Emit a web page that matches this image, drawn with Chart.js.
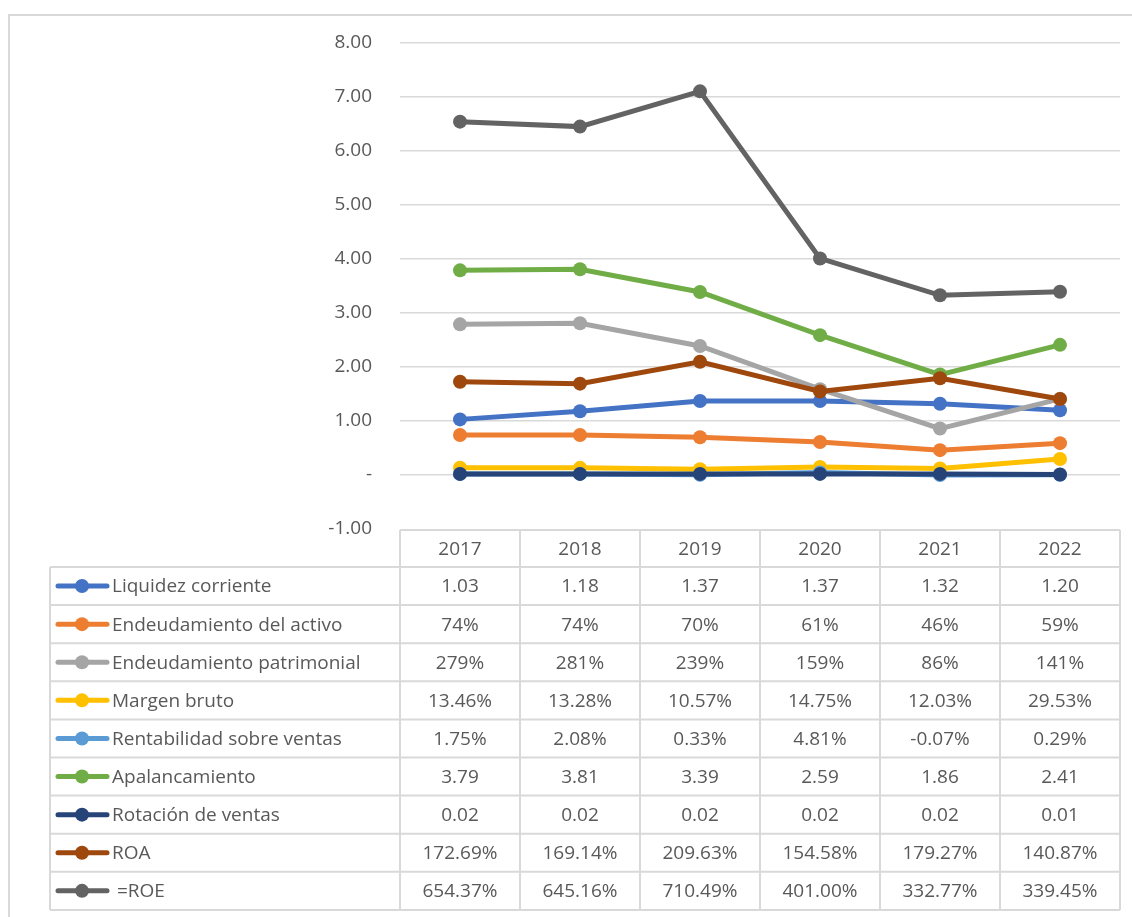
<!DOCTYPE html>
<html>
<head>
<meta charset="utf-8">
<script src="https://cdn.jsdelivr.net/npm/chart.js@4"></script>
<style>
    html, body { margin: 0; padding: 0; background: #fff; }
    #wrap { position: relative; width: 1132px; height: 917px; }
    #frame { position: absolute; left: 8px; top: 14px; width: 1140px; height: 920px; border: 2px solid #d9d9d9; box-sizing: border-box; }
    canvas { position: absolute; left: 0; top: 0; }
</style>
</head>
<body>
<div id="wrap">
    <div id="frame"></div>
    <canvas id="ratiosChart" width="1132" height="917"></canvas>
</div>
<script>
// Data
const years = ['2017', '2018', '2019', '2020', '2021', '2022'];
const liquidezCorriente = [1.03, 1.18, 1.37, 1.37, 1.32, 1.20];
const endeudamientoActivo = [0.74, 0.74, 0.70, 0.61, 0.46, 0.59];
const endeudamientoPatrimonial = [2.79, 2.81, 2.39, 1.59, 0.86, 1.41];
const margenBruto = [0.1346, 0.1328, 0.1057, 0.1475, 0.1203, 0.2953];
const rentabilidadVentas = [0.0175, 0.0208, 0.0033, 0.0481, -0.0007, 0.0029];
const apalancamiento = [3.79, 3.81, 3.39, 2.59, 1.86, 2.41];
const rotacionVentas = [0.02, 0.02, 0.02, 0.02, 0.02, 0.01];
const roa = [1.7269, 1.6914, 2.0963, 1.5458, 1.7927, 1.4087];
const roe = [6.5437, 6.4516, 7.1049, 4.0100, 3.3277, 3.3945];
const yTicks = [-1, 0, 1, 2, 3, 4, 5, 6, 7, 8];

const FONT = '"Open Sans", Lato, sans-serif';
const TEXT = '#595959';
const GRID = '#d9d9d9';

// formatters for table cells
const fmtNum = v => v.toFixed(2);
const fmtPct0 = v => Math.round(v * 100) + '%';
const fmtPct2 = v => (v * 100).toFixed(2) + '%';

const series = [
    { label: 'Liquidez corriente', data: liquidezCorriente, color: '#4472C4', fmt: fmtNum },
    { label: 'Endeudamiento del activo', data: endeudamientoActivo, color: '#ED7D31', fmt: fmtPct0 },
    { label: 'Endeudamiento patrimonial', data: endeudamientoPatrimonial, color: '#A5A5A5', fmt: fmtPct0 },
    { label: 'Margen bruto', data: margenBruto, color: '#FFC000', fmt: fmtPct2 },
    { label: 'Rentabilidad sobre ventas', data: rentabilidadVentas, color: '#5B9BD5', fmt: fmtPct2 },
    { label: 'Apalancamiento', data: apalancamiento, color: '#70AD47', fmt: fmtNum },
    { label: 'Rotación de ventas', data: rotacionVentas, color: '#264478', fmt: fmtNum },
    { label: 'ROA', data: roa, color: '#9E480E', fmt: fmtPct2 },
    { label: ' =ROE', data: roe, color: '#636363', fmt: fmtPct2 }
];

// Data table drawn under the plot area, columns aligned with the x scale
const dataTable = {
    id: 'dataTable',
    afterDraw(chart) {
        const ctx = chart.ctx;
        const xs = chart.scales.x;
        const area = chart.chartArea;
        const colW = xs.getPixelForValue(1) - xs.getPixelForValue(0);
        const left = area.left, right = area.right;
        const legendLeft = 50;
        const headTop = area.bottom + 1;
        const headH = 37;
        const rowH = 38.1;
        const firstRow = headTop + headH;
        const bottom = firstRow + rowH * series.length;

        ctx.save();
        ctx.strokeStyle = GRID;
        ctx.lineWidth = 2;
        ctx.beginPath();
        // header top
        ctx.moveTo(left, headTop); ctx.lineTo(right, headTop);
        // row lines
        for (let i = 0; i <= series.length; i++) {
            const y = firstRow + rowH * i;
            ctx.moveTo(legendLeft, y); ctx.lineTo(right, y);
        }
        // verticals
        ctx.moveTo(legendLeft, firstRow); ctx.lineTo(legendLeft, bottom);
        for (let j = 0; j <= years.length; j++) {
            const x = left + colW * j;
            ctx.moveTo(x, headTop); ctx.lineTo(x, bottom);
        }
        ctx.stroke();

        ctx.font = '19px ' + FONT;
        ctx.fillStyle = TEXT;
        ctx.textAlign = 'center';
        ctx.textBaseline = 'middle';
        years.forEach((yr, j) => {
            ctx.fillText(yr, xs.getPixelForValue(j), headTop + headH / 2 + 1);
        });

        series.forEach((s, i) => {
            const cy = firstRow + rowH * i + rowH / 2;
            // legend key
            ctx.strokeStyle = s.color;
            ctx.lineWidth = 5;
            ctx.lineCap = 'round';
            ctx.beginPath();
            ctx.moveTo(58, cy); ctx.lineTo(107, cy);
            ctx.stroke();
            ctx.fillStyle = s.color;
            ctx.beginPath();
            ctx.arc(82, cy, 7, 0, Math.PI * 2);
            ctx.fill();
            // label
            ctx.fillStyle = TEXT;
            ctx.textAlign = 'left';
            ctx.fillText(s.label, 112, cy + 1);
            // values
            ctx.textAlign = 'center';
            s.data.forEach((v, j) => {
                ctx.fillText(s.fmt(v), xs.getPixelForValue(j), cy + 1);
            });
        });
        ctx.restore();
    }
};

const ctx = document.getElementById('ratiosChart');
new Chart(ctx, {
    type: 'line',
    data: {
        labels: years,
        datasets: series.map((s, i) => ({
            label: s.label,
            data: s.data,
            borderColor: s.color,
            backgroundColor: s.color,
            borderWidth: 5,
            pointRadius: 7,
            pointBorderWidth: 0,
            tension: 0,
            order: series.length - i
        }))
    },
    options: {
        responsive: false,
        animation: false,
        layout: { padding: { left: 0, top: 43, right: 12, bottom: 388 } },
        plugins: {
            legend: { display: false },
            tooltip: { enabled: false }
        },
        scales: {
            x: { display: false, offset: true },
            y: {
                min: -1,
                max: 8,
                afterFit(scale) { scale.width = 400; },
                afterBuildTicks(scale) { scale.ticks = yTicks.map(v => ({ value: v })); },
                border: { display: false },
                grid: {
                    color: ctx => ctx.tick && ctx.tick.value === -1 ? 'rgba(0,0,0,0)' : GRID,
                    lineWidth: 1.5,
                    drawTicks: false
                },
                ticks: {
                    padding: 28,
                    color: TEXT,
                    font: { family: FONT, size: 19 },
                    callback: v => v === 0 ? '-' : v.toFixed(2)
                }
            }
        }
    },
    plugins: [dataTable]
});
</script>
</body>
</html>
